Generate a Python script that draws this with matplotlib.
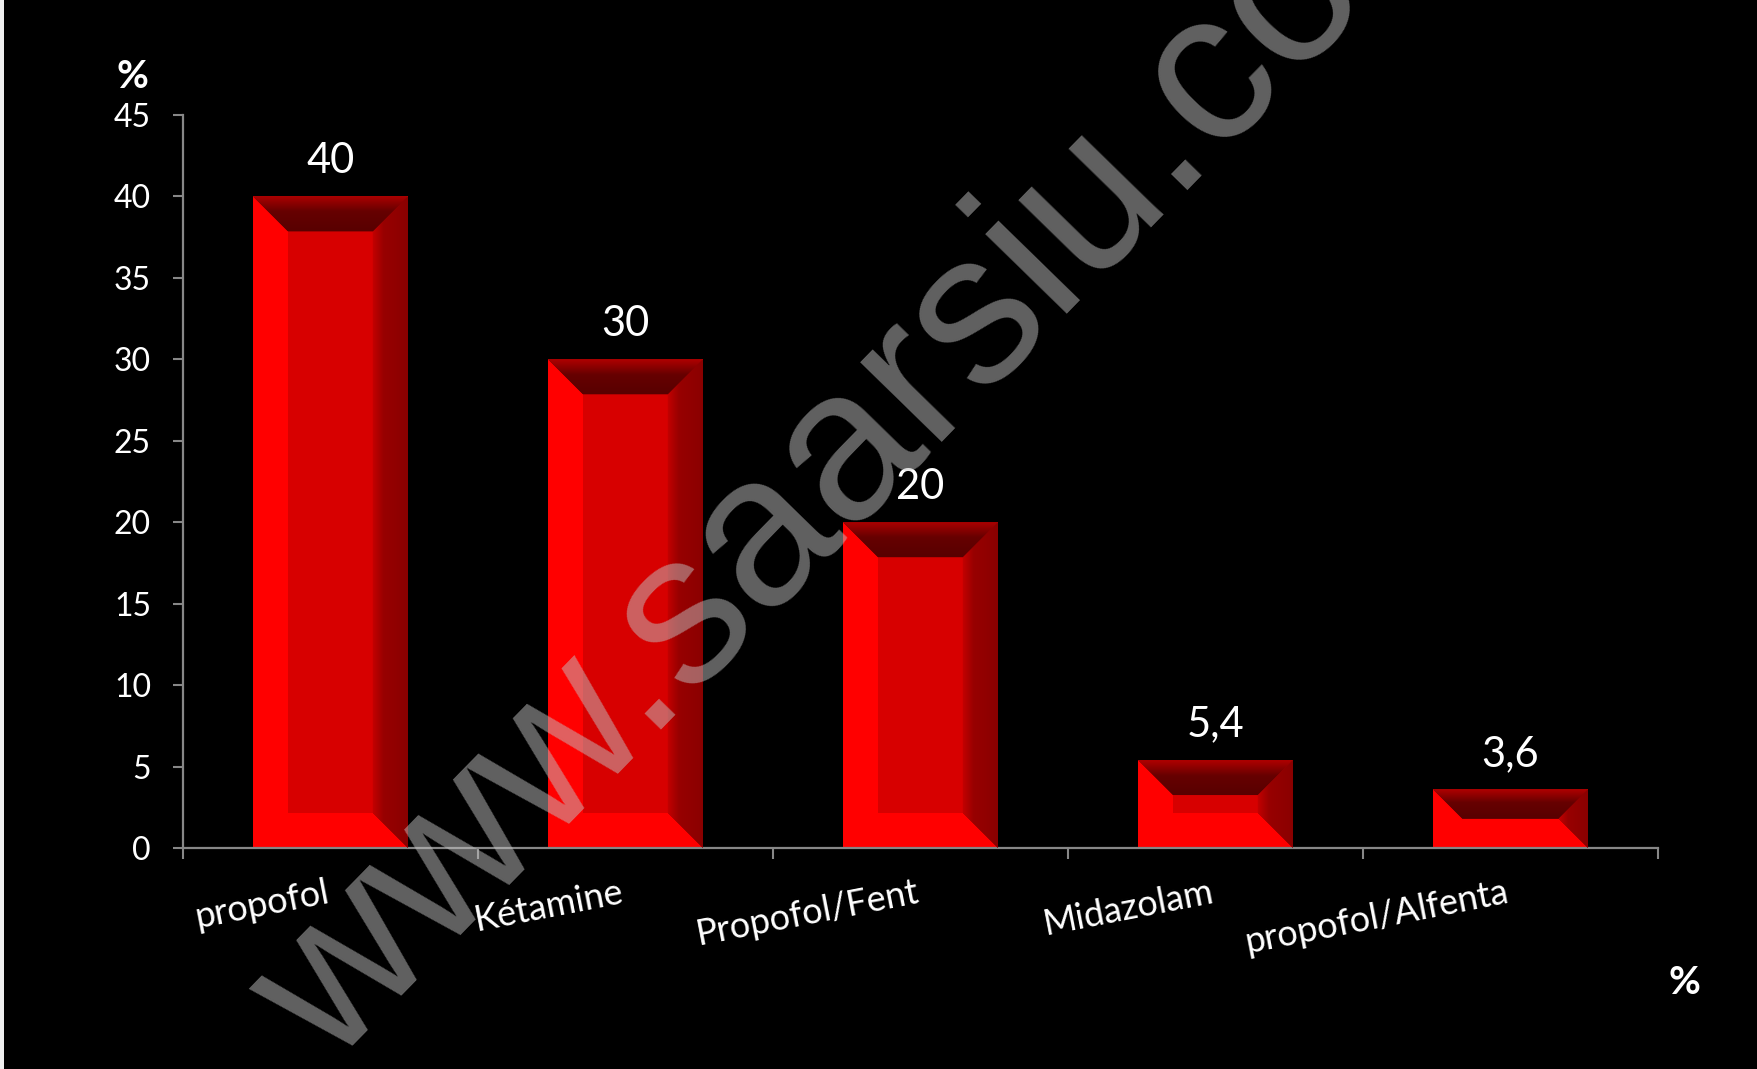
import matplotlib
matplotlib.use("Agg")
import matplotlib.pyplot as plt
import numpy as np
from matplotlib.patches import Polygon, Rectangle
from matplotlib.colors import LinearSegmentedColormap

categories = ["propofol", "Kétamine", "Propofol/Fent", "Midazolam", "propofol/Alfenta"]
values = [40, 30, 20, 5.4, 3.6]
value_labels = ["40", "30", "20", "5,4", "3,6"]
y_ticks = [0, 5, 10, 15, 20, 25, 30, 35, 40, 45]
watermark = "www.saarsiu.com"

plt.rcParams["font.family"] = ["Lato", "DejaVu Sans"]

W, H = 1758, 1069
fig = plt.figure(figsize=(W / 100, H / 100), dpi=100, facecolor="black")
ax = fig.add_axes([183 / W, 1 - 848 / H, 1475 / W, 733 / H])
ax.set_facecolor("black")

x = np.arange(len(categories))
width = 0.525
ax.set_xlim(-0.5, len(categories) - 0.5)
ax.set_ylim(0, 45)

# base bars (bright red = left and bottom bevel)
bars = ax.bar(x, values, width, color="#ff0000", linewidth=0, zorder=2)

# pixel scale so the bevel is square on screen
p0 = ax.transData.transform((0, 0))
px_x = ax.transData.transform((1, 0))[0] - p0[0]
px_y = ax.transData.transform((0, 1))[1] - p0[1]

top_cmap = LinearSegmentedColormap.from_list("top", [(0, "#580000"), (0.55, "#660000"), (1, "#b00000")])
right_cmap = LinearSegmentedColormap.from_list("right", [(0, "#c20000"), (0.3, "#980000"), (1, "#8a0000")])
grad = np.linspace(0, 1, 256)

for bar, h in zip(bars, values):
    x0 = bar.get_x()
    x1 = x0 + bar.get_width()
    b_px = min(35, h * px_y / 2)
    bx = b_px / px_x
    by = b_px / px_y
    ix0, ix1 = x0 + bx, x1 - bx
    iy0, iy1 = by, h - by

    # centre face
    ax.add_patch(Rectangle((ix0, iy0), ix1 - ix0, iy1 - iy0, facecolor="#d70000", linewidth=0, zorder=3))

    # top bevel with vertical gradient
    top = Polygon([(x0, h), (x1, h), (ix1, iy1), (ix0, iy1)], closed=True,
                  facecolor="#660000", linewidth=0, zorder=3)
    ax.add_patch(top)
    im = ax.imshow(grad[::-1].reshape(-1, 1)[::-1], extent=(x0, x1, iy1, h), cmap=top_cmap,
                   aspect="auto", origin="lower", interpolation="bilinear", zorder=4)
    im.set_clip_path(top)

    # right bevel with horizontal gradient
    right = Polygon([(x1, 0), (x1, h), (ix1, iy1), (ix1, iy0)], closed=True,
                    facecolor="#900000", linewidth=0, zorder=3)
    ax.add_patch(right)
    im = ax.imshow(grad.reshape(1, -1), extent=(ix1, x1, 0, h), cmap=right_cmap,
                   aspect="auto", origin="lower", interpolation="bilinear", zorder=4)
    im.set_clip_path(right)

ax.set_xlim(-0.5, len(categories) - 0.5)
ax.set_ylim(0, 45)

# value labels
for xi, h, lab in zip(x, values, value_labels):
    ax.annotate(lab, (xi, h), xytext=(0, 17), textcoords="offset points",
                ha="center", va="baseline", color="white", fontsize=30, zorder=5)

# axes styling
for s in ["top", "right"]:
    ax.spines[s].set_visible(False)
for s in ["left", "bottom"]:
    ax.spines[s].set_color("#878787")
    ax.spines[s].set_linewidth(1.6)

ax.set_yticks(y_ticks)
ax.tick_params(axis="y", direction="out", length=7, width=1.5, color="#878787",
               labelcolor="white", labelsize=23, pad=16)

ax.set_xticks(np.arange(len(categories) + 1) - 0.5)
ax.set_xticklabels([])
ax.tick_params(axis="x", which="major", direction="out", length=8, width=1.5, color="#878787")
ax.set_xticks(x, categories, minor=True)
ax.tick_params(axis="x", which="minor", length=0, pad=39, labelcolor="white", labelsize=26)
for lbl in ax.get_xticklabels(minor=True):
    lbl.set_rotation(11)
    lbl.set_ha("right")
    lbl.set_va("baseline")
    lbl.set_rotation_mode("anchor")

# percent signs
fig.text(132 / W, 1 - 76 / H, "%", color="white", fontsize=28, fontweight="bold",
         ha="center", va="center")
fig.text(1684 / W, 1 - 982 / H, "%", color="white", fontsize=28, fontweight="bold",
         ha="center", va="center")

# thin white strip on the left edge
fig.patches.append(Rectangle((0, 0), 4 / W, 1, transform=fig.transFigure,
                             facecolor="#f0f0f0", linewidth=0))

# watermark
fig.text(331 / 100, 0 / 100, watermark, transform=fig.dpi_scale_trans,
         family=["Liberation Sans", "DejaVu Sans"], fontsize=155, color="#c2c2c2", alpha=0.5,
         rotation=45.7, rotation_mode="anchor", ha="left", va="baseline", zorder=10)

fig.savefig("out.png", dpi=100, facecolor="black")
